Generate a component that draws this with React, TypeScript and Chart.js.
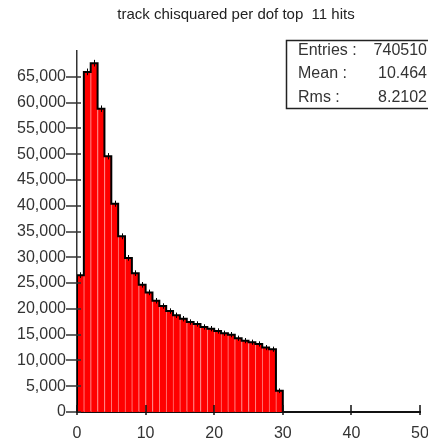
import React, { useEffect, useRef } from "react";
import { Chart, registerables } from "chart.js";

Chart.register(...registerables);

const TITLE = "track chisquared per dof top  11 hits";
const BIN_LOW = 0;
const BIN_WIDTH = 1;
const COUNTS = [
  26540, 65950, 67640, 58810, 49590, 40390, 34070, 29880, 26920, 24660,
  23190, 21570, 20550, 19580, 18750, 18090, 17450, 17070, 16490, 16160,
  15710, 15270, 15000, 14300, 13840, 13530, 13200, 12490, 12180, 4120,
];
const X_MIN = 0;
const X_MAX = 50;
const X_STEP = 10;
const Y_MAX = 70000;
const Y_STEP = 5000;
const Y_LAST_TICK = 65000;
const STATS_LABELS = ["Entries :", "Mean :", "Rms :"];
const STATS_VALUES = ["740510", "10.464", "8.2102"];

const FONT = "'Liberation Sans', Arial, sans-serif";
const TEXT = "#333333";

const fmt = (v: number) => String(v).replace(/\B(?=(\d{3})+(?!\d))/g, ",");

const decor = {
  id: "decor",
  afterDatasetsDraw(chart: any) {
    const { ctx } = chart;
    const xs = chart.scales.x;
    const ys = chart.scales.y;
    ctx.save();
    ctx.strokeStyle = "#000";
    ctx.lineWidth = 1;
    COUNTS.forEach((c, i) => {
      const px = Math.round(xs.getPixelForValue(BIN_LOW + (i + 0.5) * BIN_WIDTH)) + 0.5;
      const err = Math.sqrt(c);
      const y1 = ys.getPixelForValue(c + err) - 2;
      const y2 = ys.getPixelForValue(c - err) + 2;
      ctx.beginPath();
      ctx.moveTo(px, y1);
      ctx.lineTo(px, y2);
      ctx.stroke();
    });
    ctx.restore();
  },
  afterDraw(chart: any) {
    const { ctx, chartArea } = chart;
    const xs = chart.scales.x;
    const ys = chart.scales.y;
    ctx.save();
    ctx.strokeStyle = "#333";
    ctx.lineWidth = 1.5;
    ys.ticks.forEach((t: any) => {
      const py = Math.round(ys.getPixelForValue(t.value));
      ctx.beginPath();
      ctx.moveTo(chartArea.left - 11, py);
      ctx.lineTo(chartArea.left + 4, py);
      ctx.stroke();
    });
    ctx.strokeStyle = "#111";
    xs.ticks.forEach((t: any) => {
      const px = Math.round(xs.getPixelForValue(t.value));
      ctx.beginPath();
      ctx.moveTo(px, chartArea.bottom - 7);
      ctx.lineTo(px, chartArea.bottom + 3);
      ctx.stroke();
    });
    ctx.fillStyle = "#222";
    ctx.font = `15px ${FONT}`;
    ctx.textAlign = "center";
    ctx.textBaseline = "middle";
    ctx.fillText(TITLE, 236, 15);
    ctx.fillStyle = "#fff";
    ctx.fillRect(286, 40, 145, 68);
    ctx.strokeStyle = "#222";
    ctx.lineWidth = 1.5;
    ctx.strokeRect(286.5, 40.5, 145, 68);
    ctx.fillStyle = TEXT;
    ctx.font = `16px ${FONT}`;
    const rows = [51, 74, 97.5];
    STATS_LABELS.forEach((l, i) => {
      ctx.textAlign = "left";
      ctx.fillText(l, 298, rows[i]);
      ctx.textAlign = "right";
      ctx.fillText(STATS_VALUES[i], 427, rows[i]);
    });
    ctx.restore();
  },
};

export default function App() {
  const ref = useRef<HTMLCanvasElement | null>(null);
  useEffect(() => {
    if (!ref.current) return;
    const centers = COUNTS.map((c, i) => ({ x: BIN_LOW + (i + 0.5) * BIN_WIDTH, y: c }));
    const outline: { x: number; y: number }[] = [{ x: BIN_LOW, y: 0 }];
    COUNTS.forEach((c, i) => outline.push({ x: BIN_LOW + i * BIN_WIDTH, y: c }));
    outline.push({ x: BIN_LOW + COUNTS.length * BIN_WIDTH, y: 0 });

    const chart = new Chart(ref.current, {
      type: "bar",
      data: {
        datasets: [
          {
            type: "line",
            data: outline,
            borderColor: "#000",
            borderWidth: 2,
            pointRadius: 0,
            stepped: "before",
            fill: false,
            order: 1,
          } as any,
          {
            type: "bar",
            data: centers,
            backgroundColor: "#ff0000",
            borderColor: "#ff7a7a",
            borderWidth: { left: 1, right: 0, top: 0, bottom: 0 },
            borderSkipped: false,
            barPercentage: 1,
            categoryPercentage: 1,
            order: 2,
          } as any,
        ],
      },
      options: {
        responsive: false,
        animation: false,
        devicePixelRatio: 1,
        layout: { padding: { top: 51, right: 8, left: 0, bottom: 0 } },
        plugins: { legend: { display: false }, tooltip: { enabled: false }, title: { display: false } },
        scales: {
          x: {
            type: "linear",
            min: X_MIN,
            max: X_MAX,
            offset: false,
            grid: { display: false, drawTicks: false },
            border: { display: true, color: "#111", width: 2 },
            ticks: {
              stepSize: X_STEP,
              color: TEXT,
              font: { family: FONT, size: 16 },
              padding: 12,
              maxRotation: 0,
              autoSkip: false,
            },
            afterFit: (s: any) => {
              s.height = 31;
              s.paddingLeft = 0;
              s.paddingRight = 0;
            },
          },
          y: {
            type: "linear",
            min: 0,
            max: Y_MAX,
            grid: { display: false, drawTicks: false },
            border: { display: true, color: "#333", width: 1.5 },
            ticks: {
              stepSize: Y_STEP,
              color: TEXT,
              font: { family: FONT, size: 16 },
              padding: 11,
              callback: (v: any) => fmt(Number(v)),
            },
            afterBuildTicks: (s: any) => {
              s.ticks = s.ticks.filter((t: any) => t.value <= Y_LAST_TICK);
            },
            afterFit: (s: any) => {
              s.width = 77;
              s.paddingTop = 0;
              s.paddingBottom = 0;
            },
          },
        },
      },
      plugins: [decor],
    });
    return () => chart.destroy();
  }, []);
  return (
    <canvas
      ref={ref}
      width={428}
      height={443}
      style={{ position: "absolute", left: 0, top: 0, display: "block", background: "#fff" }}
    />
  );
}
